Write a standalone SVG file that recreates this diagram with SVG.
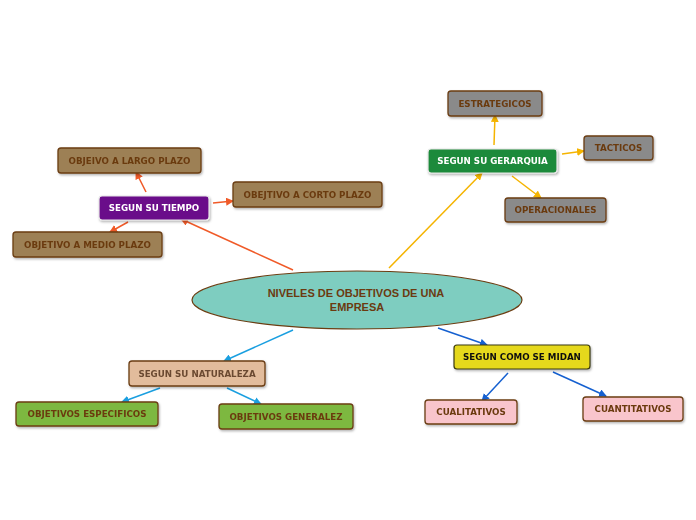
<svg xmlns="http://www.w3.org/2000/svg" width="696" height="520" viewBox="0 0 696 520">
<defs>
<style>
text{font-family:"DejaVu Sans","Liberation Sans",sans-serif;font-weight:bold;font-size:8.7px;text-anchor:middle;dominant-baseline:central}
.bn{stroke:#6b3d12;stroke-width:1.3}
.brown{fill:#9d8054}
.gray{fill:#8a8a8a}
.lt{fill:#6b3a10}
.c{fill:none;stroke-width:1.5}
</style>
<marker id="mo" markerWidth="8" markerHeight="8" refX="7" refY="4" orient="auto" markerUnits="userSpaceOnUse"><path d="M0,0L8,4L0,8z" fill="#f05a28"/></marker>
<marker id="my" markerWidth="8" markerHeight="8" refX="7" refY="4" orient="auto" markerUnits="userSpaceOnUse"><path d="M0,0L8,4L0,8z" fill="#f5b400"/></marker>
<marker id="mc" markerWidth="8" markerHeight="8" refX="7" refY="4" orient="auto" markerUnits="userSpaceOnUse"><path d="M0,0L8,4L0,8z" fill="#1a9fe0"/></marker>
<marker id="mb" markerWidth="8" markerHeight="8" refX="7" refY="4" orient="auto" markerUnits="userSpaceOnUse"><path d="M0,0L8,4L0,8z" fill="#1560d0"/></marker>
<filter id="sh" x="-10%" y="-20%" width="120%" height="150%"><feDropShadow dx="1" dy="1.5" stdDeviation="0.8" flood-color="#000" flood-opacity="0.3"/></filter>
</defs>
<rect width="696" height="520" fill="#fff"/>
<g id="connectors">
<line class="c" x1="293" y1="270" x2="181" y2="219" stroke="#f05a28" marker-end="url(#mo)"/>
<line class="c" x1="146" y1="192" x2="136" y2="172" stroke="#f05a28" marker-end="url(#mo)"/>
<line class="c" x1="213" y1="203" x2="233" y2="201" stroke="#f05a28" marker-end="url(#mo)"/>
<line class="c" x1="128" y1="222" x2="110" y2="232" stroke="#f05a28" marker-end="url(#mo)"/>
<line class="c" x1="389" y1="268" x2="482" y2="173" stroke="#f5b400" marker-end="url(#my)"/>
<line class="c" x1="494" y1="145" x2="495" y2="115" stroke="#f5b400" marker-end="url(#my)"/>
<line class="c" x1="562" y1="154" x2="584" y2="151" stroke="#f5b400" marker-end="url(#my)"/>
<line class="c" x1="512" y1="176" x2="541" y2="198" stroke="#f5b400" marker-end="url(#my)"/>
<line class="c" x1="293" y1="330" x2="224" y2="361" stroke="#1a9fe0" marker-end="url(#mc)"/>
<line class="c" x1="160" y1="388" x2="122" y2="402" stroke="#1a9fe0" marker-end="url(#mc)"/>
<line class="c" x1="227" y1="388" x2="261" y2="404" stroke="#1a9fe0" marker-end="url(#mc)"/>
<line class="c" x1="438" y1="328" x2="487" y2="345" stroke="#1560d0" marker-end="url(#mb)"/>
<line class="c" x1="508" y1="373" x2="482" y2="401" stroke="#1560d0" marker-end="url(#mb)"/>
<line class="c" x1="553" y1="372" x2="606" y2="396" stroke="#1560d0" marker-end="url(#mb)"/>
</g>
<g id="center">
<ellipse cx="357" cy="300" rx="165" ry="29" fill="#7ecdc0" stroke="#6b3d12" stroke-width="1.2"/>
<text x="356" y="293" class="lt" style="font-family:'Liberation Sans',Arial,sans-serif;font-size:11px">NIVELES DE OBJETIVOS DE UNA</text>
<text x="357" y="307" class="lt" style="font-family:'Liberation Sans',Arial,sans-serif;font-size:11px">EMPRESA</text>
</g>
<g id="tiempo" filter="url(#sh)">
<rect x="99" y="196" width="110" height="24" rx="3" fill="#6b0a8a" stroke="#e8e8e8" stroke-width="1.2"/>
<text x="154" y="208" fill="#fff">SEGUN SU TIEMPO</text>
</g>
<g id="largo" filter="url(#sh)">
<rect class="bn brown" x="58" y="148" width="143" height="25" rx="3"/>
<text x="129.5" y="160.5" class="lt">OBJEIVO A LARGO PLAZO</text>
</g>
<g id="corto" filter="url(#sh)">
<rect class="bn brown" x="233" y="182" width="149" height="25" rx="3"/>
<text x="307.5" y="194.5" class="lt">OBEJTIVO A CORTO PLAZO</text>
</g>
<g id="medio" filter="url(#sh)">
<rect class="bn brown" x="13" y="232" width="149" height="25" rx="3"/>
<text x="87.5" y="244.5" class="lt">OBJETIVO A MEDIO PLAZO</text>
</g>
<g id="gerarquia" filter="url(#sh)">
<rect x="428" y="149" width="129" height="24" rx="3" fill="#1e8a3a" stroke="#e8e8e8" stroke-width="1.2"/>
<text x="492.5" y="161" fill="#fff">SEGUN SU GERARQUIA</text>
</g>
<g id="estrategicos" filter="url(#sh)">
<rect class="bn gray" x="448" y="91" width="94" height="25" rx="3"/>
<text x="495" y="103.5" class="lt">ESTRATEGICOS</text>
</g>
<g id="tacticos" filter="url(#sh)">
<rect class="bn gray" x="584" y="136" width="69" height="24" rx="3"/>
<text x="618.5" y="148" class="lt">TACTICOS</text>
</g>
<g id="operacionales" filter="url(#sh)">
<rect class="bn gray" x="505" y="198" width="101" height="24" rx="3"/>
<text x="555.5" y="210" class="lt">OPERACIONALES</text>
</g>
<g id="naturaleza" filter="url(#sh)">
<rect class="bn" x="129" y="361" width="136" height="25" rx="3" fill="#e2bc9c"/>
<text x="197" y="373.5" fill="#6b4a30">SEGUN SU NATURALEZA</text>
</g>
<g id="especificos" filter="url(#sh)">
<rect class="bn" x="16" y="402" width="142" height="24" rx="3" fill="#7db83f"/>
<text x="87" y="414" class="lt">OBJETIVOS ESPECIFICOS</text>
</g>
<g id="generalez" filter="url(#sh)">
<rect class="bn" x="219" y="404" width="134" height="25" rx="3" fill="#7db83f"/>
<text x="286" y="416.5" class="lt">OBJETIVOS GENERALEZ</text>
</g>
<g id="midan" filter="url(#sh)">
<rect x="454" y="345" width="136" height="24" rx="3" fill="#e5d81a" stroke="#3a3a10" stroke-width="1.2"/>
<text x="522" y="357" fill="#111">SEGUN COMO SE MIDAN</text>
</g>
<g id="cualitativos" filter="url(#sh)">
<rect class="bn" x="425" y="400" width="92" height="24" rx="3" fill="#f9c5cc"/>
<text x="471" y="412" class="lt">CUALITATIVOS</text>
</g>
<g id="cuantitativos" filter="url(#sh)">
<rect class="bn" x="583" y="397" width="100" height="24" rx="3" fill="#f9c5cc"/>
<text x="633" y="409" class="lt">CUANTITATIVOS</text>
</g>
</svg>
